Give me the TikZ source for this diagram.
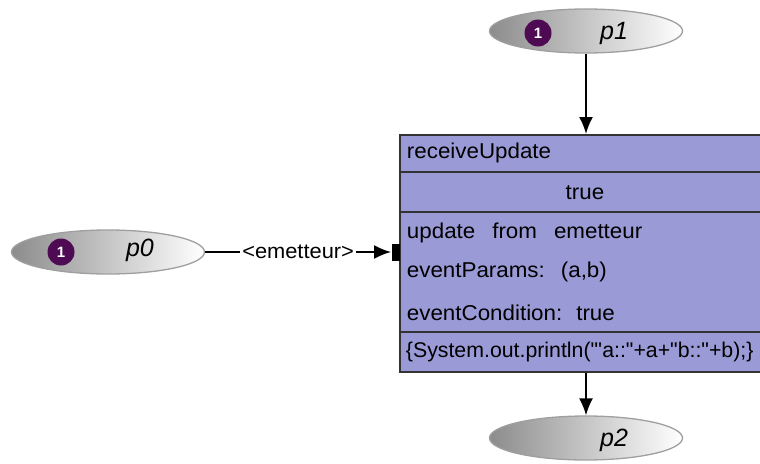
\documentclass[tikz,border=0pt]{standalone}
\usepackage{fontspec}
\setmainfont{Liberation Sans}
\newfontfamily\boxfont{Liberation Sans}[FakeStretch=1.04]
\usetikzlibrary{arrows.meta,shapes.geometric}
\definecolor{transfill}{RGB}{154,154,214}
\definecolor{tokpurple}{RGB}{78,10,82}
\tikzset{
  place/.style={ellipse,draw=gray!75,line width=1.3pt,minimum width=193pt,minimum height=44pt,inner sep=0pt,
    left color=gray!90,middle color=gray!15,right color=white},
  token/.style={circle,fill=tokpurple,minimum size=27pt,inner sep=0pt,text=white,
    font=\fontsize{15}{15}\selectfont\bfseries},
  plabel/.style={font=\fontsize{25}{27}\selectfont\itshape},
  trans/.style={rectangle,draw=black!80,line width=1.6pt,fill=transfill,anchor=north west,
    minimum width=420pt,minimum height=237pt},
  rowline/.style={draw=black!80,line width=1.4pt},
  rowtext/.style={anchor=west,inner sep=0pt,font=\boxfont\fontsize{21.5}{24}\selectfont},
  elabel/.style={fill=white,inner sep=2pt,font=\boxfont\fontsize{21}{23}\selectfont}
}
\begin{document}
\begin{tikzpicture}[x=1pt,y=-1pt,>={Latex[length=17pt,width=14pt]},line width=1.9pt]
	\useasboundingbox (0,0) rectangle (760,463);
	\clip (0,0) rectangle (760,463);
	\path
	(586,31)  node[place] (p1) {}
	(538,33)  node[token] (k1) {1}
	(614,33)  node[plabel] (l1) {p1}
	(108,252) node[place] (p0) {}
	(61,252)  node[token] (k0) {1}
	(140,250) node[plabel] (l0) {p0}
	(586,438) node[place] (p2) {}
	(614,440) node[plabel] (l2) {p2};
	
	\node[trans] (T) at (399,134) {};
	\draw[rowline] (T.west |- 0,172) -- (T.east |- 0,172);
	\draw[rowline] (T.west |- 0,212) -- (T.east |- 0,212);
	\draw[rowline] (T.west |- 0,332) -- (T.east |- 0,332);
	
	\node[rowtext] (name) at (406,153) {receiveUpdate};
	\node[rowtext,anchor=center] (guard) at (585,193) {true};
	\node[rowtext] (evt) at (406,233) {update\hspace{17pt}from\hspace{17pt}emetteur};
	\node[rowtext] (par) at (406,272) {eventParams:\hspace{16pt}(a,b)};
	\node[rowtext] (cond) at (406,313) {eventCondition:\hspace{14pt}true};
	\node[rowtext,font=\fontsize{21.3}{24}\selectfont] (code) at (405,352) {\{System.out.println(\textquotedbl\textquotesingle a::\textquotedbl+a+\textquotedbl b::\textquotedbl+b);\}};
	
	\node[fill=black,minimum width=8pt,minimum height=17pt,inner sep=0pt] (port) at (396,252) {};
	
	\draw[->] (p1.south) -- (p1.south |- T.north);
	\draw[->] (p2.north |- T.south) -- (p2.north);
	\draw[->] (p0.east) -- node[elabel,pos=.5] (arc) {<emetteur>} (port.west);
\end{tikzpicture}
\end{document}
